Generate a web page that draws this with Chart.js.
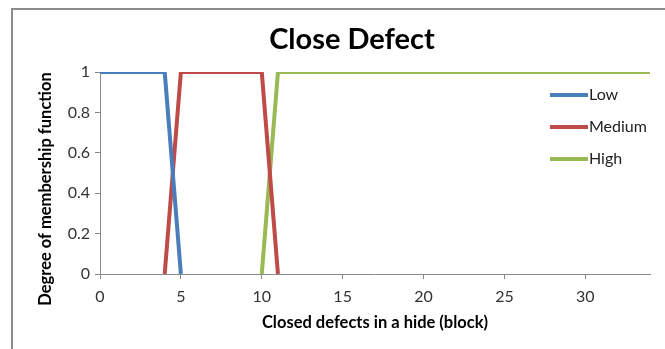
<!DOCTYPE html>
<html>
<head>
<meta charset="utf-8">
<script src="https://cdn.jsdelivr.net/npm/chart.js@4.4.1/dist/chart.umd.min.js"></script>
<style>
    html, body { margin: 0; padding: 0; background: #fff; overflow: hidden; }
    #frame { position: absolute; left: 11px; top: 8px; width: 800px; height: 500px; border: 2px solid #8c8c8c; }
    #chart { position: absolute; left: 0; top: 0; }
</style>
</head>
<body>
<div id="frame"></div>
<canvas id="chart" width="665" height="349"></canvas>
<script>
// membership function breakpoints
const lowX = [0, 4, 5];
const lowY = [1, 1, 0];
const mediumX = [4, 5, 10, 11];
const mediumY = [0, 1, 1, 0];
const highX = [10, 11, 34];
const highY = [0, 1, 1];

const seriesNames = ['Low', 'Medium', 'High'];
const seriesColors = ['#4a7ebb', '#be4b48', '#98b954'];

const chartTitle = 'Close Defect';
const xTitle = 'Closed defects in a hide (block)';
const yTitle = 'Degree of membership function';

const FONT = 'Lato';
const AXIS = '#8a8a8a';

const toPoints = (xs, ys) => xs.map((x, i) => ({ x, y: ys[i] }));

// legend sits inside the plot on the right, Excel style
const insideLegend = {
    id: 'insideLegend',
    afterDraw(chart) {
        const { ctx } = chart;
        ctx.save();
        ctx.font = `16px ${FONT}`;
        ctx.textAlign = 'left';
        ctx.textBaseline = 'middle';
        chart.data.datasets.forEach((ds, i) => {
            const y = 95 + i * 32;
            ctx.strokeStyle = ds.borderColor;
            ctx.lineWidth = 4;
            ctx.beginPath();
            ctx.moveTo(550, y);
            ctx.lineTo(588, y);
            ctx.stroke();
            ctx.fillStyle = '#222';
            ctx.fillText(ds.label, 589, y);
        });
        ctx.restore();
    },
};

// y title, drawn a little below centre like the original
const yAxisTitle = {
    id: 'yAxisTitle',
    afterDraw(chart) {
        const { ctx } = chart;
        ctx.save();
        ctx.translate(46, 189);
        ctx.rotate(-Math.PI / 2);
        ctx.font = `bold 16.5px ${FONT}`;
        ctx.fillStyle = '#000';
        ctx.textAlign = 'center';
        ctx.textBaseline = 'middle';
        ctx.fillText(yTitle, 0, 0);
        ctx.restore();
    },
};

new Chart(document.getElementById('chart'), {
    type: 'scatter',
    data: {
        datasets: [
            { label: seriesNames[0], data: toPoints(lowX, lowY), borderColor: seriesColors[0] },
            { label: seriesNames[1], data: toPoints(mediumX, mediumY), borderColor: seriesColors[1] },
            { label: seriesNames[2], data: toPoints(highX, highY), borderColor: seriesColors[2] },
        ].map(ds => ({ ...ds, showLine: true, borderWidth: 4, pointRadius: 0, tension: 0, backgroundColor: ds.borderColor })),
    },
    options: {
        responsive: false,
        animation: false,
        layout: { padding: { left: 54, right: 15, top: 0, bottom: 0 } },
        plugins: {
            legend: { display: false },
            tooltip: { enabled: false },
            title: {
                display: true,
                text: chartTitle,
                color: '#000',
                font: { family: FONT, size: 29, weight: 'bold' },
                padding: { top: 22.6, bottom: 14.6 },
            },
        },
        scales: {
            x: {
                type: 'linear',
                min: 0,
                max: 34,
                afterFit: s => { s.height = 75; },
                ticks: { stepSize: 5, includeBounds: false, padding: 8, color: '#333', font: { family: FONT, size: 16 } },
                grid: { drawOnChartArea: false, drawTicks: true, tickLength: 5, color: AXIS },
                border: { color: AXIS, width: 1 },
                title: {
                    display: true,
                    text: xTitle,
                    color: '#000',
                    font: { family: FONT, size: 16.5, weight: 'bold' },
                    padding: { top: 0, bottom: 16 },
                },
            },
            y: {
                min: 0,
                max: 1,
                afterFit: s => { s.width = 46; },
                ticks: {
                    stepSize: 0.2,
                    padding: 5,
                    color: '#333',
                    font: { family: FONT, size: 16 },
                    callback: v => String(+v.toFixed(1)),
                },
                grid: { drawOnChartArea: false, drawTicks: true, tickLength: 5, color: AXIS },
                border: { color: AXIS, width: 1 },
            },
        },
    },
    plugins: [insideLegend, yAxisTitle],
});
</script>
</body>
</html>
